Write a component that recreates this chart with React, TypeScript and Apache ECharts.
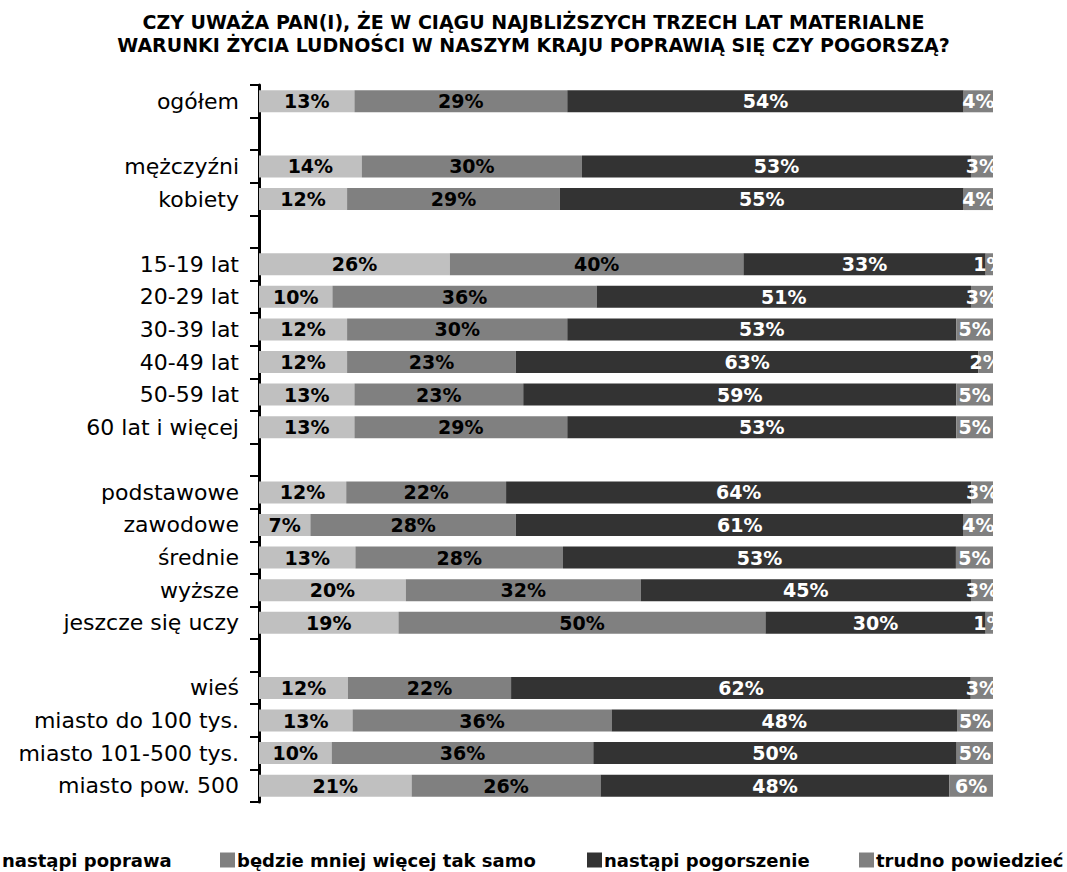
import React, { useEffect, useRef } from "react";
import * as echarts from "echarts";

const TITLE =
  "CZY UWAŻA PAN(I), ŻE W CIĄGU NAJBLIŻSZYCH TRZECH LAT MATERIALNE\nWARUNKI ŻYCIA LUDNOŚCI W NASZYM KRAJU POPRAWIĄ SIĘ CZY POGORSZĄ?";

const categories = [
  "ogółem",
  "",
  "mężczyźni",
  "kobiety",
  "",
  "15-19 lat",
  "20-29 lat",
  "30-39 lat",
  "40-49 lat",
  "50-59 lat",
  "60 lat i więcej",
  "",
  "podstawowe",
  "zawodowe",
  "średnie",
  "wyższe",
  "jeszcze się uczy",
  "",
  "wieś",
  "miasto do 100 tys.",
  "miasto 101-500 tys.",
  "miasto pow. 500",
];

const seriesNames = [
  "nastąpi poprawa",
  "będzie mniej więcej tak samo",
  "nastąpi pogorszenie",
  "trudno powiedzieć",
];

const poprawa = [13, null, 14, 12, null, 26, 10, 12, 12, 13, 13, null, 12, 7, 13, 20, 19, null, 12, 13, 10, 21];
const takSamo = [29, null, 30, 29, null, 40, 36, 30, 23, 23, 29, null, 22, 28, 28, 32, 50, null, 22, 36, 36, 26];
const pogorszenie = [54, null, 53, 55, null, 33, 51, 53, 63, 59, 53, null, 64, 61, 53, 45, 30, null, 62, 48, 50, 48];
const trudno = [4, null, 3, 4, null, 1, 3, 5, 2, 5, 5, null, 3, 4, 5, 3, 1, null, 3, 5, 5, 6];

const FONT = "'DejaVu Sans', sans-serif";
const colors = ["#C0C0C0", "#808080", "#333333", "#808080"];
const labelColors = ["#000000", "#000000", "#FFFFFF", "#FFFFFF"];

export default function App() {
  const ref = useRef<HTMLDivElement>(null);

  useEffect(() => {
    if (!ref.current) return;
    const chart = echarts.init(ref.current, null, { renderer: "svg" });
    const all = [poprawa, takSamo, pogorszenie, trudno];
    const totals = categories.map((_, i) =>
      all.reduce((s, arr) => s + (arr[i] == null ? 0 : (arr[i] as number)), 0)
    );
    const legendLefts = [-15, 220, 587, 859];

    const option: any = {
      animation: false,
      backgroundColor: "#FFFFFF",
      title: {
        text: TITLE,
        left: "center",
        top: 10,
        padding: [0, 0, 0, 13],
        textStyle: {
          fontFamily: FONT,
          fontSize: 19,
          fontWeight: "bold",
          color: "#000000",
          lineHeight: 23,
        },
      },
      legend: seriesNames.map((name, i) => ({
        data: [name],
        left: legendLefts[i],
        top: 851,
        padding: 0,
        itemWidth: 15,
        itemHeight: 15,
        icon: "rect",
        selectedMode: false,
        textStyle: {
          fontFamily: FONT,
          fontSize: 18,
          fontWeight: "bold",
          color: "#000000",
          padding: [0, 0, 0, -3],
        },
      })),
      grid: { left: 259, right: 74, top: 85, bottom: 70, containLabel: false },
      xAxis: {
        type: "value",
        min: 0,
        max: 100,
        show: false,
        splitLine: { show: false },
      },
      yAxis: {
        type: "category",
        data: categories,
        inverse: true,
        offset: 1,
        axisLine: { show: true, lineStyle: { color: "#000000", width: 3 } },
        axisTick: { show: true, length: 9, inside: false, lineStyle: { color: "#000000", width: 2 } },
        axisLabel: {
          interval: 0,
          margin: 19,
          fontFamily: FONT,
          fontSize: 22,
          color: "#000000",
        },
        splitLine: { show: false },
      },
      series: all.map((vals, si) => ({
        name: seriesNames[si],
        type: "bar",
        stack: "total",
        barWidth: 22,
        itemStyle: { color: colors[si] },
        label: {
          show: true,
          position: "inside",
          fontFamily: FONT,
          fontSize: 19,
          fontWeight: "bold",
          color: labelColors[si],
          formatter: (p: any) => `${vals[p.dataIndex]}%`,
        },
        data: vals.map((v, i) => (v == null ? null : ((v as number) / totals[i]) * 100)),
      })),
      graphic: [
        {
          type: "rect",
          z: 100,
          shape: { x: 993, y: 80, width: 80, height: 730 },
          style: { fill: "#FFFFFF" },
        },
      ],
    };

    chart.setOption(option);
    return () => chart.dispose();
  }, []);

  return (
    <div
      ref={ref}
      style={{ position: "fixed", left: 0, top: 0, width: 1067, height: 872 }}
    />
  );
}
